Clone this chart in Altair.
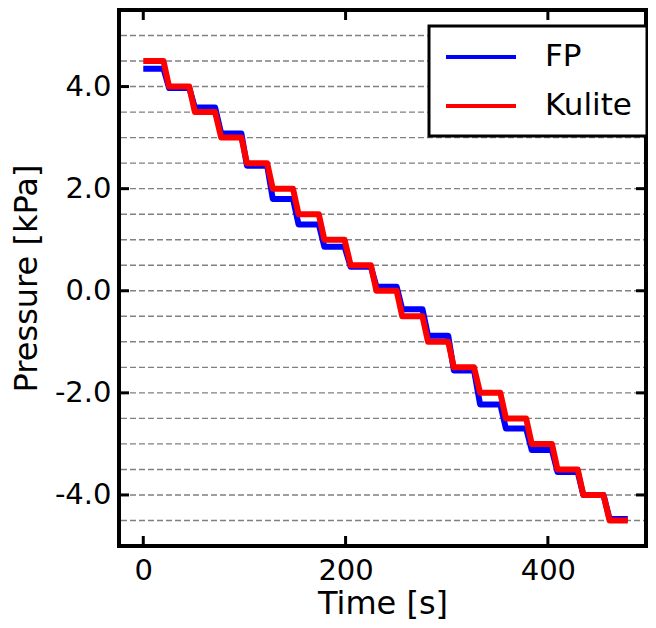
import altair as alt
import pandas as pd

# ---- data ----
step_start = [0, 25.5, 51, 77, 102.5, 128, 153.5, 179, 205, 230.5, 256, 281.5,
              307, 333, 358.5, 384, 409.5, 435, 461]
step_end = [20, 45.5, 71, 97, 122.5, 148, 173.5, 199, 225, 250.5, 276, 301.5,
            327, 353, 378.5, 404, 429.5, 455, 479]
kulite = [4.5, 4.0, 3.5, 3.0, 2.5, 2.0, 1.5, 1.0, 0.5, 0.0, -0.5, -1.0, -1.5,
          -2.0, -2.5, -3.0, -3.5, -4.0, -4.5]
fp = [4.35, 3.97, 3.59, 3.08, 2.45, 1.80, 1.30, 0.86, 0.47, 0.08, -0.36, -0.88,
      -1.56, -2.23, -2.70, -3.12, -3.55, -4.00, -4.47]
series_names = ["FP", "Kulite"]
series_colors = ["#0000ff", "#ff0000"]
grid_levels = [-4.5, -4.0, -3.5, -3.0, -2.5, -2.0, -1.5, -1.0, -0.5, 0.0, 0.5,
               1.0, 1.5, 2.0, 2.5, 3.0, 3.5, 4.0, 4.5, 5.0]
x_ticks = [0, 200, 400]
y_ticks = [-4, -2, 0, 2, 4]
x_domain = [-24, 497]
y_domain = [-5.0, 5.5]

W, H = 527, 536
FONT = "DejaVu Sans"


def series_frame(name, levels):
    rows = []
    k = 0
    for s, e, v in zip(step_start, step_end, levels):
        rows.append({"series": name, "t": s, "p": v, "k": k}); k += 1
        rows.append({"series": name, "t": e, "p": v, "k": k}); k += 1
    return pd.DataFrame(rows)


df_fp = series_frame("FP", fp)
df_ku = series_frame("Kulite", kulite)

xs = alt.Scale(domain=x_domain, nice=False, zero=False)
ys = alt.Scale(domain=y_domain, nice=False, zero=False)
x_axis = alt.Axis(values=x_ticks, format="d", labelPadding=10, titlePadding=3)
y_axis = alt.Axis(values=y_ticks, labelPadding=8, titlePadding=11,
                  labelExpr="(datum.value < 0 ? '-' : '') + format(abs(datum.value), '.1f')")
X_TITLE = "Time [s]"
Y_TITLE = "Pressure [kPa]"


def xenc(field):
    return alt.X(field, type="quantitative", scale=xs, axis=x_axis, title=X_TITLE)


def yenc(field):
    return alt.Y(field, type="quantitative", scale=ys, axis=y_axis, title=Y_TITLE)


color = alt.Color(
    "series:N",
    scale=alt.Scale(domain=series_names, range=series_colors),
    title=None,
    legend=alt.Legend(
        orient="none", legendX=310, legendY=16,
        symbolType="M-1,0H4", symbolSize=784, symbolStrokeWidth=4,
        labelFontSize=31, labelFont=FONT, labelColor="black",
        labelOffset=69, padding=15, rowPadding=18,
        strokeColor="black", fillColor="white", cornerRadius=0,
    ),
)

grid = alt.Chart(pd.DataFrame({"p": grid_levels})).mark_rule(
    color="#808080", strokeWidth=1.4, strokeDash=[6, 3]
).encode(
    y=yenc("p"),
    x=alt.value(2), x2=alt.value(W - 2),
)

line_fp = alt.Chart(df_fp).mark_line(strokeWidth=6, strokeJoin="round").encode(
    x=xenc("t"), y=yenc("p"), color=color, order="k:Q",
)
line_ku = alt.Chart(df_ku).mark_line(strokeWidth=6, strokeJoin="round").encode(
    x=xenc("t"), y=yenc("p"), color=color, order="k:Q",
)

tick_style = dict(color="black", strokeWidth=3)
ydf = pd.DataFrame({"p": y_ticks})
xdf = pd.DataFrame({"t": x_ticks})
yt_left = alt.Chart(ydf).mark_rule(**tick_style).encode(
    y=yenc("p"), x=alt.value(0), x2=alt.value(10))
yt_right = alt.Chart(ydf).mark_rule(**tick_style).encode(
    y=yenc("p"), x=alt.value(W - 10), x2=alt.value(W))
xt_bottom = alt.Chart(xdf).mark_rule(**tick_style).encode(
    x=xenc("t"), y=alt.value(H - 10), y2=alt.value(H))
xt_top = alt.Chart(xdf).mark_rule(**tick_style).encode(
    x=xenc("t"), y=alt.value(0), y2=alt.value(10))

chart = alt.layer(
    grid, line_fp, line_ku, yt_left, yt_right, xt_bottom, xt_top
).properties(
    width=W, height=H,
    autosize=alt.AutoSizeParams(type="none"),
    padding={"left": 111, "top": 2, "right": 2, "bottom": 74},
).configure_view(
    stroke="black", strokeWidth=4
).configure_axis(
    domain=False, ticks=False, grid=False,
    labelFont=FONT, labelFontSize=29, labelColor="black",
    titleFont=FONT, titleFontSize=32, titleFontWeight="normal", titleColor="black",
).configure_legend(
    strokeWidth=3
)

chart.save("out.html", embed_options={"renderer": "svg", "actions": False})
